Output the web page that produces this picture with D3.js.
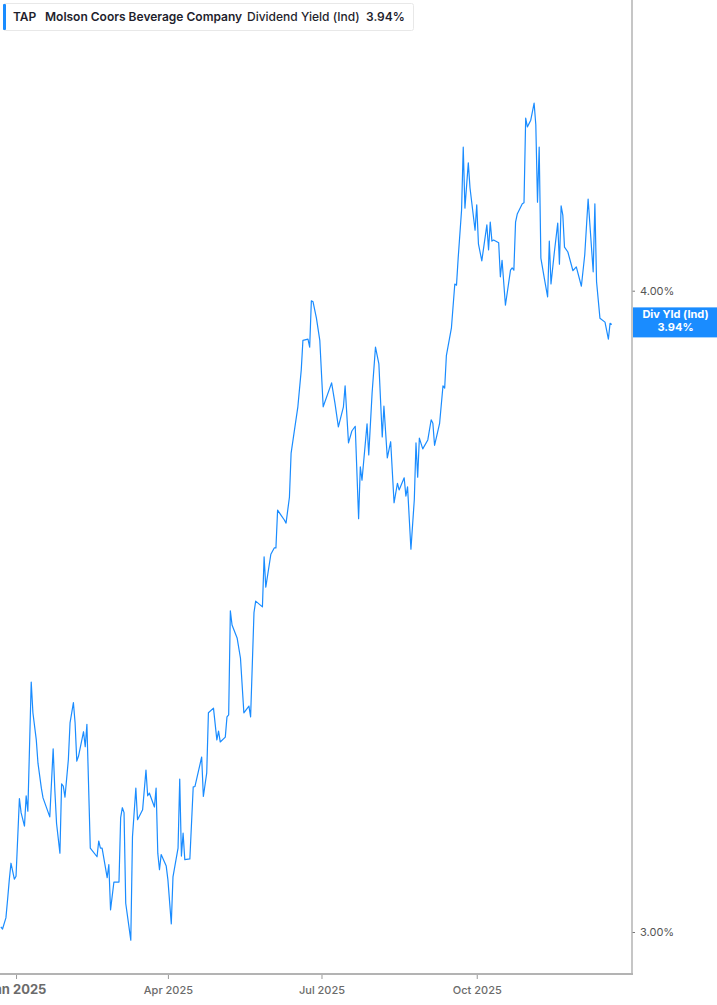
<!DOCTYPE html>
<html>
<head>
<meta charset="utf-8">
<script src="https://cdn.jsdelivr.net/npm/d3@7"></script>
<style>
body { margin: 0; background: #fff; }
svg { display: block; font-family: Inter, "Noto Sans", sans-serif; }
</style>
</head>
<body>
<script>
// TAP dividend yield (indicated)
var dates = [
	"2024-12-23","2024-12-24","2024-12-26","2024-12-27","2024-12-28","2024-12-29","2024-12-31",
	"2025-01-01","2025-01-03","2025-01-04","2025-01-06","2025-01-07","2025-01-08","2025-01-10","2025-01-11",
	"2025-01-13","2025-01-14","2025-01-16","2025-01-17","2025-01-21","2025-01-23","2025-01-24","2025-01-25",
	"2025-01-27","2025-01-28","2025-01-29","2025-01-30","2025-02-01","2025-02-02","2025-02-04","2025-02-05",
	"2025-02-06","2025-02-07","2025-02-10","2025-02-11","2025-02-12","2025-02-14","2025-02-18","2025-02-19",
	"2025-02-20","2025-02-21","2025-02-24","2025-02-25","2025-02-26","2025-02-28","2025-03-03","2025-03-04",
	"2025-03-05","2025-03-06","2025-03-07","2025-03-10","2025-03-11","2025-03-13","2025-03-14","2025-03-17",
	"2025-03-19","2025-03-20","2025-03-21","2025-03-24","2025-03-25","2025-03-26","2025-03-27","2025-03-28",
	"2025-03-31","2025-04-01","2025-04-03","2025-04-04","2025-04-07","2025-04-08","2025-04-09","2025-04-10",
	"2025-04-11","2025-04-14","2025-04-16","2025-04-17","2025-04-21","2025-04-22","2025-04-24","2025-04-25",
	"2025-04-28","2025-04-30","2025-05-01","2025-05-02","2025-05-05","2025-05-06","2025-05-07","2025-05-08",
	"2025-05-09","2025-05-12","2025-05-14","2025-05-16","2025-05-19","2025-05-20","2025-05-22","2025-05-23",
	"2025-05-27","2025-05-28","2025-05-29","2025-06-01","2025-06-03","2025-06-04","2025-06-05","2025-06-07",
	"2025-06-09","2025-06-10","2025-06-12","2025-06-13","2025-06-15","2025-06-17","2025-06-19","2025-06-20",
	"2025-06-23","2025-06-24","2025-06-25","2025-06-26","2025-06-28","2025-06-30","2025-07-02","2025-07-07",
	"2025-07-09","2025-07-11","2025-07-14","2025-07-15","2025-07-17","2025-07-19","2025-07-21","2025-07-23",
	"2025-07-24","2025-07-25","2025-07-28","2025-07-29","2025-07-31","2025-08-02","2025-08-04","2025-08-06",
	"2025-08-07","2025-08-09","2025-08-11","2025-08-13","2025-08-15","2025-08-16","2025-08-19","2025-08-20",
	"2025-08-21","2025-08-23","2025-08-25","2025-08-26","2025-08-27","2025-08-28","2025-08-30","2025-09-02",
	"2025-09-04","2025-09-05","2025-09-06","2025-09-09","2025-09-11","2025-09-12","2025-09-13","2025-09-16",
	"2025-09-18","2025-09-19","2025-09-20","2025-09-22","2025-09-23","2025-09-24","2025-09-26","2025-09-27",
	"2025-09-30","2025-10-01","2025-10-02","2025-10-04","2025-10-07","2025-10-08","2025-10-09","2025-10-10",
	"2025-10-11","2025-10-14","2025-10-15","2025-10-16","2025-10-18","2025-10-21","2025-10-22","2025-10-23",
	"2025-10-24","2025-10-25","2025-10-28","2025-10-29","2025-10-30","2025-10-31","2025-11-02","2025-11-04",
	"2025-11-05","2025-11-06","2025-11-07","2025-11-08","2025-11-10","2025-11-12","2025-11-13","2025-11-14",
	"2025-11-16","2025-11-18","2025-11-19","2025-11-20","2025-11-21","2025-11-22","2025-11-24","2025-11-27",
	"2025-11-29","2025-12-02","2025-12-04","2025-12-06","2025-12-09","2025-12-10","2025-12-11","2025-12-13",
	"2025-12-16","2025-12-18","2025-12-19","2025-12-20"
];

var yields = [
	3.007,3.004,3.019,3.044,3.071,3.094,3.072,
	3.076,3.185,3.165,3.146,3.189,3.167,3.356,3.310,
	3.270,3.236,3.200,3.186,3.159,3.257,3.197,3.150,
	3.108,3.206,3.203,3.187,3.241,3.295,3.325,3.295,
	3.239,3.246,3.282,3.260,3.293,3.115,3.103,3.125,
	3.115,3.115,3.074,3.092,3.030,3.068,3.068,3.158,
	3.172,3.165,3.039,2.989,3.131,3.200,3.155,3.169,
	3.226,3.189,3.193,3.173,3.200,3.108,3.085,3.106,
	3.090,3.071,3.011,3.075,3.115,3.213,3.104,3.136,
	3.099,3.100,3.202,3.202,3.245,3.188,3.222,3.310,
	3.317,3.270,3.283,3.267,3.274,3.304,3.307,3.465,
	3.443,3.423,3.392,3.310,3.320,3.304,3.462,3.480,
	3.471,3.550,3.502,3.554,3.564,3.564,3.625,3.617,
	3.609,3.604,3.646,3.719,3.758,3.797,3.860,3.912,
	3.914,3.900,3.982,3.980,3.951,3.912,3.797,3.838,
	3.803,3.763,3.797,3.833,3.736,3.756,3.764,3.611,
	3.696,3.674,3.768,3.716,3.821,3.900,3.871,3.746,
	3.798,3.711,3.738,3.637,3.669,3.658,3.678,3.648,
	3.663,3.562,3.642,3.736,3.679,3.744,3.726,3.741,
	3.775,3.769,3.732,3.769,3.833,3.829,3.885,3.934,
	4.012,4.010,4.059,4.147,4.266,4.151,4.236,4.189,
	4.110,4.157,4.085,4.054,4.120,4.074,4.125,4.090,
	4.092,4.087,4.025,4.055,3.974,4.037,4.041,4.037,
	4.125,4.140,4.159,4.161,4.322,4.305,4.318,4.351,
	4.309,4.162,4.266,4.059,4.023,3.989,4.090,4.012,
	4.070,4.123,4.048,4.155,4.138,4.079,4.070,4.036,
	4.043,4.008,4.065,4.168,4.034,4.159,4.016,3.951,
	3.944,3.914,3.942,3.940
];

var yTicks = [3, 4];
var xTicks = ["2025-01-01", "2025-04-01", "2025-07-01", "2025-10-01"];
var xTickLabels = ["Jan 2025", "Apr 2025", "Jul 2025", "Oct 2025"];

var ticker = "TAP",
	company = "Molson Coors Beverage Company",
	metric = "Dividend Yield (Ind)",
	shortMetric = "Div Yld (Ind)";

var w = 717, h = 1005;
var plotRight = 632, plotBottom = 974;
var blue = "#1a8cff";

var parse = d3.timeParse("%Y-%m-%d");
var points = dates.map(function(d, i) {
	return { date: parse(d), value: yields[i] };
});
var last = points[points.length - 1];

var x = d3.scaleTime()
	.domain([new Date(2024, 11, 22, 12), new Date(2026, 0, 1)])
	.range([0, plotRight]);

var y = d3.scaleLog()
	.domain([3, 4])
	.range([932, 290.7]);

var fmt = function(v) { return d3.format(".2f")(v) + "%"; };

var svg = d3.select("body").append("svg")
	.attr("width", w)
	.attr("height", h);

// series line
svg.append("path")
	.datum(points)
	.attr("fill", "none")
	.attr("stroke", blue)
	.attr("stroke-width", 1.2)
	.attr("stroke-linejoin", "round")
	.attr("d", d3.line()
		.x(function(d) { return x(d.date); })
		.y(function(d) { return y(d.value); }));

// bottom axis (first label sits half off the left edge, as in the source)
var xAxis = svg.append("g")
	.attr("transform", "translate(0," + plotBottom + ")")
	.call(d3.axisBottom(x)
		.tickValues(xTicks.map(parse))
		.tickSize(5)
		.tickFormat(function(d, i) { return xTickLabels[i]; }));
xAxis.select(".domain").remove();
xAxis.selectAll(".tick line").attr("stroke", "#9a9a9a");
xAxis.selectAll(".tick text")
	.attr("y", 16)
	.attr("dy", "0.32em")
	.attr("fill", "#6b6b6b")
	.style("font-family", "Inter, sans-serif")
	.style("font-size", function(d, i) { return i == 0 ? "13px" : "11px"; })
	.style("font-weight", function(d, i) { return i == 0 ? 700 : 500; });

svg.append("line")
	.attr("x1", 0).attr("x2", plotRight + 1)
	.attr("y1", plotBottom).attr("y2", plotBottom)
	.attr("stroke", "#b3b3b3")
	.attr("stroke-width", 2);

// right axis
var yAxis = svg.append("g")
	.attr("transform", "translate(" + plotRight + ",0)")
	.call(d3.axisRight(y)
		.tickValues(yTicks)
		.tickSize(3)
		.tickPadding(5)
		.tickFormat(fmt));
yAxis.select(".domain").remove();
yAxis.selectAll(".tick line").attr("stroke", "#777");
yAxis.selectAll(".tick text")
	.attr("fill", "#555")
	.style("font-family", "Inter, sans-serif")
	.style("font-size", "11px");

svg.append("line")
	.attr("x1", plotRight).attr("x2", plotRight)
	.attr("y1", 0).attr("y2", plotBottom)
	.attr("stroke", "#b3b3b3")
	.attr("stroke-width", 1.5);

// last value label
var ly = y(last.value) - 2;
var lab = svg.append("g").attr("transform", "translate(" + (plotRight + 1) + "," + (ly - 15) + ")");
lab.append("rect")
	.attr("width", w - plotRight - 1)
	.attr("height", 30)
	.attr("fill", blue);
lab.append("text")
	.attr("x", (w - plotRight) / 2)
	.attr("y", 11)
	.attr("text-anchor", "middle")
	.attr("fill", "#fff")
	.style("font-size", "11px")
	.style("font-weight", 700)
	.text(shortMetric);
lab.append("text")
	.attr("x", (w - plotRight) / 2)
	.attr("y", 24)
	.attr("text-anchor", "middle")
	.attr("fill", "#fff")
	.style("font-size", "11px")
	.style("font-weight", 700)
	.text(fmt(last.value));

// legend
var leg = svg.append("g");
leg.append("rect")
	.attr("x", 3.5).attr("y", 3.5)
	.attr("width", 410).attr("height", 27)
	.attr("rx", 2)
	.attr("fill", "#fff")
	.attr("stroke", "#e8e8e8");
leg.append("rect")
	.attr("x", 3).attr("y", 4)
	.attr("width", 3).attr("height", 26)
	.attr("rx", 1)
	.attr("fill", blue);

var legItems = [
	{ t: ticker, x: 13, wt: 600 },
	{ t: company, x: 45, wt: 600 },
	{ t: metric, x: 247, wt: 500 },
	{ t: fmt(last.value), x: 366, wt: 600 }
];
leg.selectAll("text.leg")
		.data(legItems)
	.enter().append("text")
	.attr("class", "leg")
	.attr("x", function(d) { return d.x; })
	.attr("y", 21)
	.attr("fill", "#1f1f2e")
	.style("font-size", "12px")
	.style("font-weight", function(d) { return d.wt; })
	.text(function(d) { return d.t; });
</script>
</body>
</html>
